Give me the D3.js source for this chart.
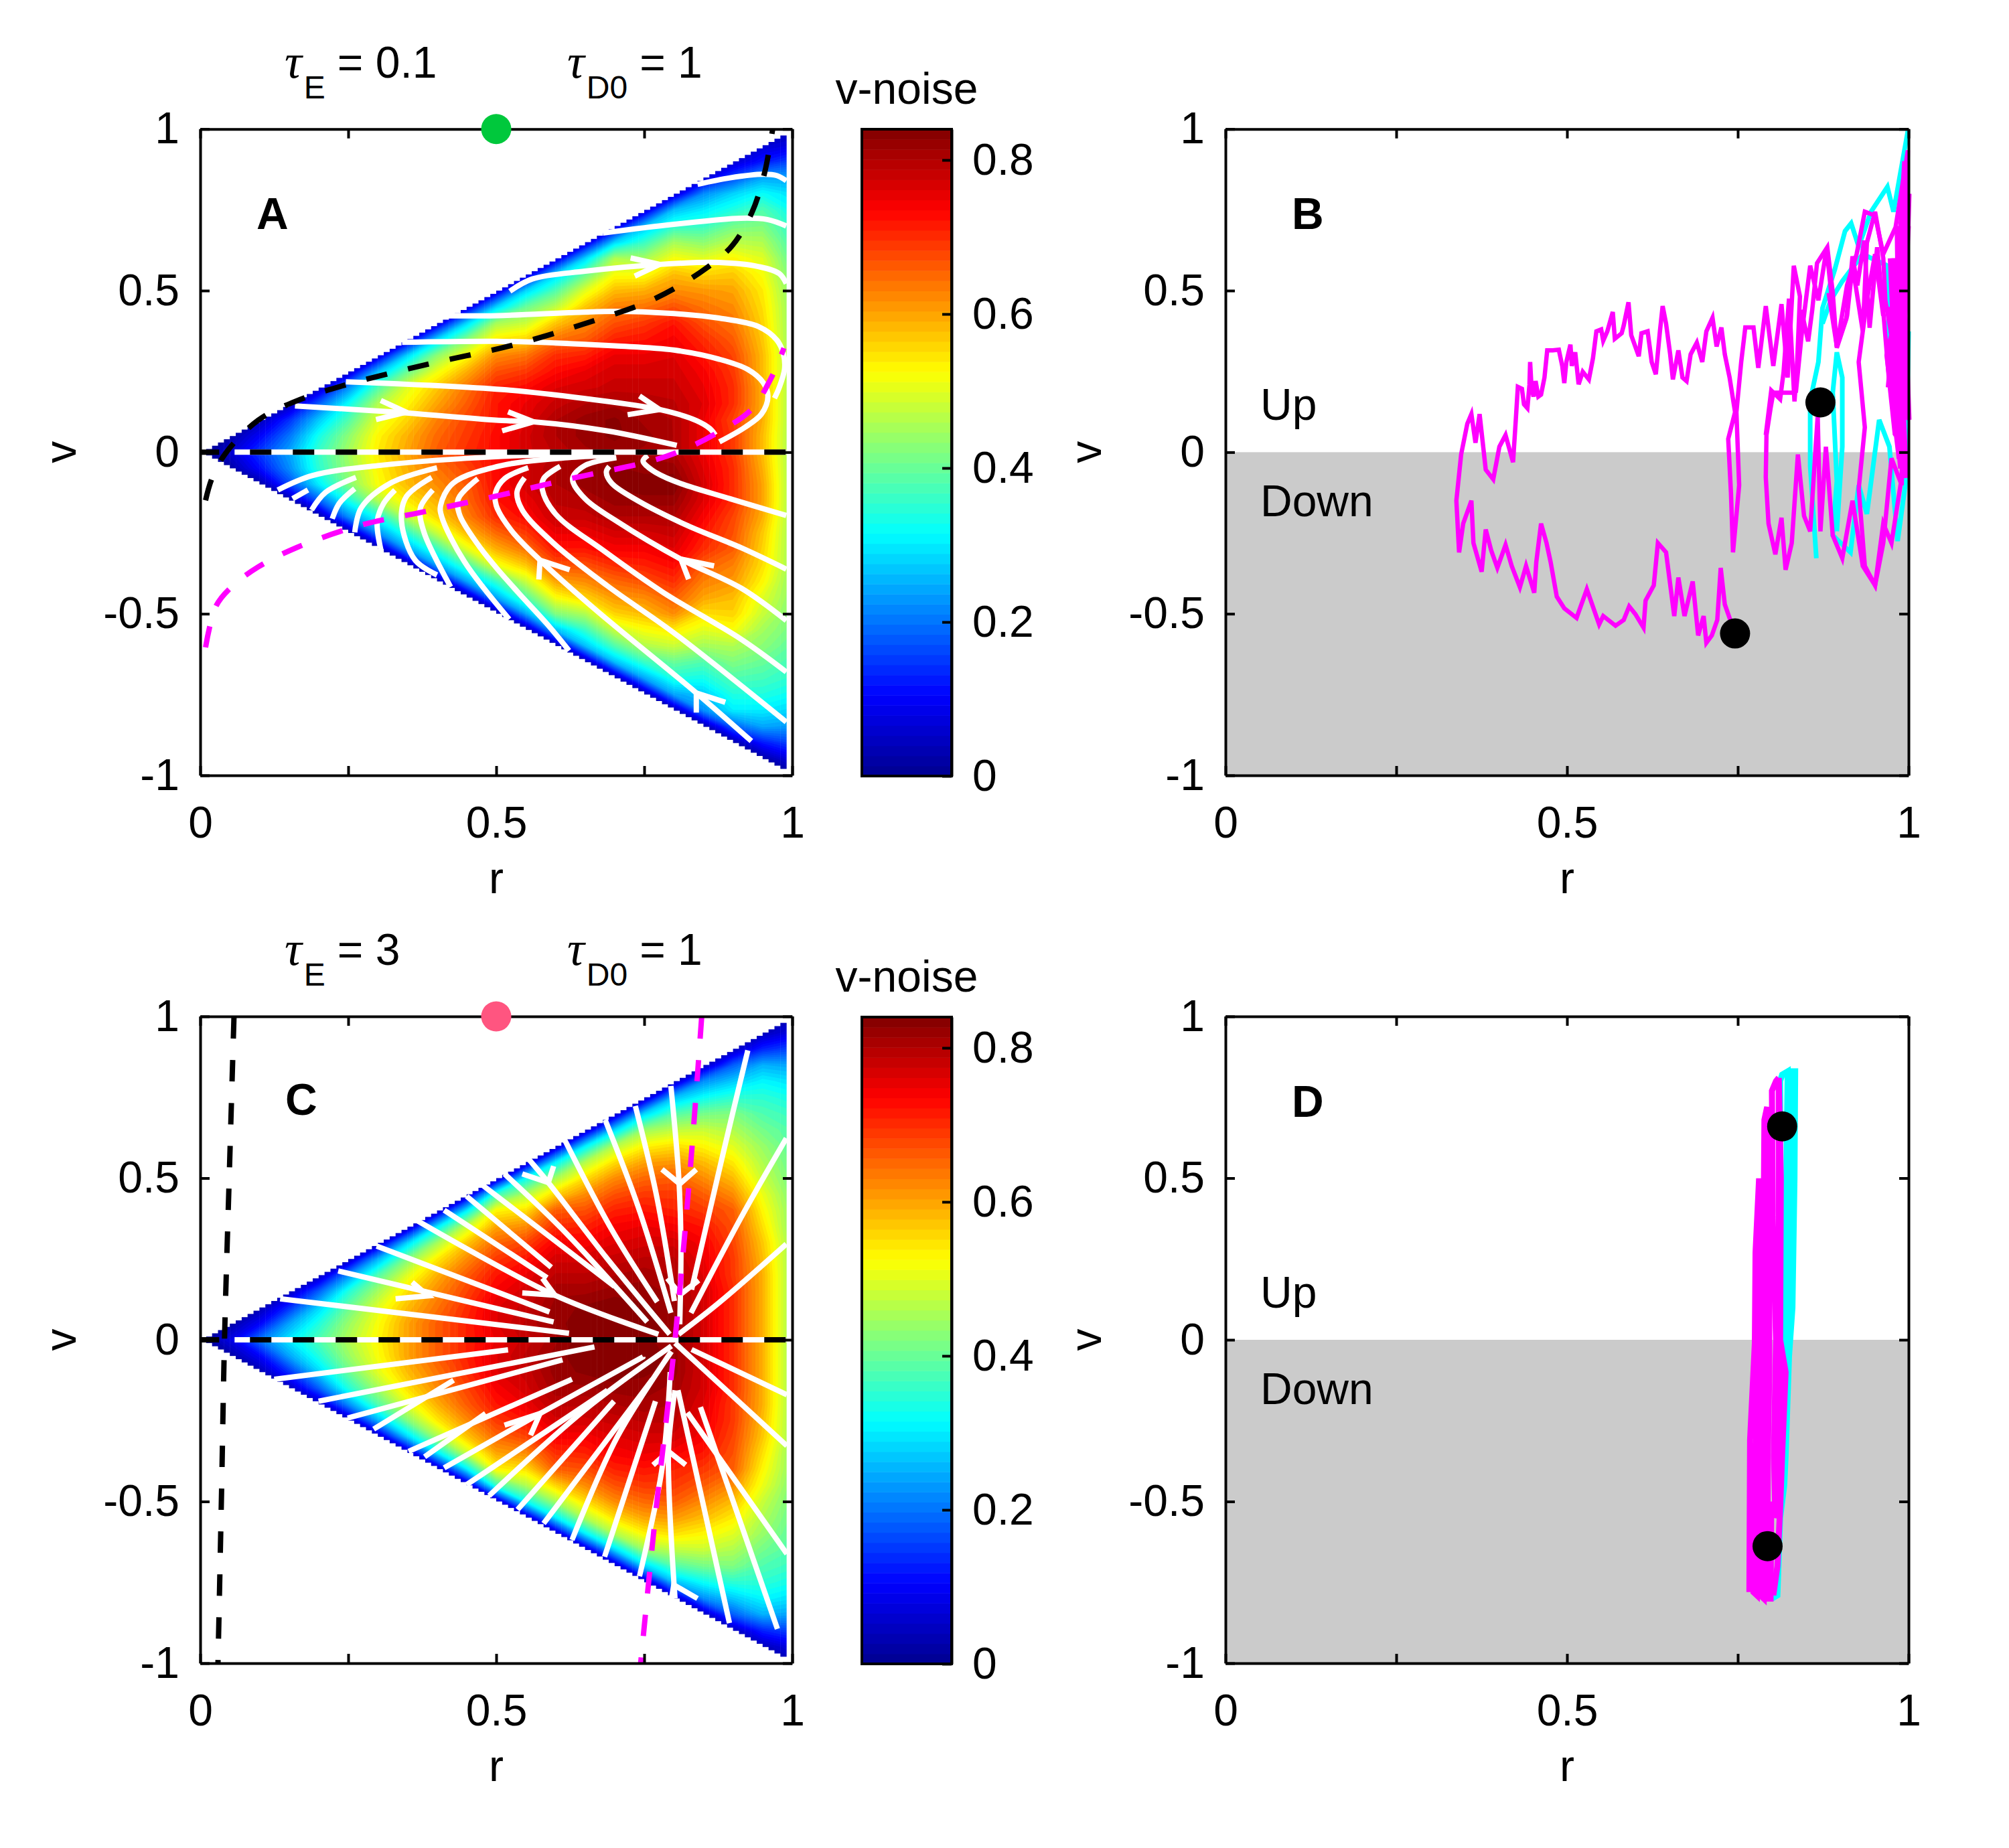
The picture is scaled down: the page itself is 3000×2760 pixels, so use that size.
<!DOCTYPE html>
<html>
<head>
<meta charset="utf-8">
<script src="https://d3js.org/d3.v7.min.js"></script>
<style>
  body { margin: 0; background: #fff; }
  text { font-family: "Liberation Sans", Arial, sans-serif; fill: #000; }
  .tau { font-family: "Liberation Serif", serif; font-style: italic; }
</style>
</head>
<body>
<div id="chart"></div>
<script>
// v-noise, in hundredths. One column per r = 0, 0.05 .. 1,
// each running from v = +r down to v = -r in steps of 0.05
var noiseA = [
  [0],
  [2,6,2],
  [4,10,15,11,2],
  [4,14,20,24,22,16,2],
  [5,18,27,33,36,35,30,18,2],
  [5,22,32,38,43,45,44,42,33,22,2],
  [6,26,38,46,50,53,54,53,52,46,33,22,2],
  [6,28,40,50,53,56,59,60,59,58,54,47,35,24,2],
  [6,28,43,51,57,60,63,65,66,64,62,59,56,48,36,24,2],
  [6,28,42,52,59,64,66,68,69,70,68,66,65,63,58,50,37,24,2],
  [6,28,45,54,62,67,71,72,72,73,73,73,73,72,70,65,59,51,36,24,2],
  [6,28,40,48,56,64,69,73,75,76,77,77,77,77,75,73,69,64,57,48,38,24,2],
  [6,28,38,47,57,64,70,73,76,78,80,80,79,80,80,79,78,75,72,67,60,52,42,26,2],
  [6,28,40,50,57,62,66,71,75,77,80,82,82,81,82,82,80,78,75,72,67,62,56,46,36,26,2],
  [6,28,46,52,58,63,67,71,75,77,78,81,83,83,82,83,83,82,80,77,74,70,65,61,56,48,38,26,2],
  [6,26,36,45,52,59,64,69,72,75,77,78,80,81,82,81,82,84,82,80,77,74,71,67,62,58,52,46,36,24,2],
  [6,26,35,45,52,58,62,67,72,74,76,77,78,79,80,80,80,82,84,82,80,78,76,73,70,66,62,54,48,40,34,24,2],
  [6,22,30,36,43,50,56,61,64,67,70,72,74,75,76,75,75,75,76,77,76,74,72,70,66,63,60,55,50,45,38,33,27,22,2],
  [6,16,28,34,41,47,53,57,60,62,64,66,68,69,70,70,68,69,69,70,70,70,68,67,66,63,61,58,56,52,46,42,38,34,30,18,2],
  [6,12,24,32,38,42,46,50,52,54,55,56,57,58,58,59,59,59,58,58,59,60,60,59,57,56,55,53,50,48,45,43,40,37,34,30,24,12,2],
  [4,8,16,24,29,32,35,37,39,41,42,43,43,43,44,44,44,44,44,44,44,44,44,44,44,44,44,44,43,43,42,41,39,37,35,32,28,23,16,8,2]
];

// panel C is symmetric about v = 0, so only v = +r down to v = 0 is kept
var noiseCUpper = [
  [0],
  [2,8],
  [3,10,20],
  [4,14,24,30],
  [4,18,28,34,38],
  [4,22,34,40,44,46],
  [4,25,38,45,50,52,53],
  [4,28,42,50,55,58,60,60],
  [4,30,45,54,59,62,64,66,66],
  [4,30,48,57,62,66,68,70,71,71],
  [4,36,53,60,65,69,72,74,76,76,75],
  [4,32,46,55,62,68,72,75,77,78,79,78],
  [4,30,45,56,66,70,74,77,79,81,82,82,81],
  [4,30,46,55,62,67,71,74,77,79,81,83,84,84],
  [4,28,46,55,62,67,71,74,76,78,80,82,84,84,84],
  [4,28,44,53,60,65,69,72,75,77,79,81,82,83,84,83],
  [4,26,38,47,55,61,66,69,71,74,77,79,80,81,82,82,82],
  [4,22,32,41,48,53,58,62,66,69,72,74,75,76,77,77,77,77],
  [4,18,27,35,42,46,50,54,58,62,66,67,68,69,69,70,70,70,70],
  [4,13,25,31,35,38,41,44,46,48,51,53,55,57,58,59,59,59,59,59],
  [4,8,16,24,29,33,36,38,39,40,41,42,43,43,44,44,44,44,44,44,44]
];

var streamsA = [
  [[.84,.829],[.895,.849],[.951,.86],[.974,.856],[.99,.84]],
  [[.68,.678],[.8,.705],[.913,.724],[.958,.72],[.99,.7]],
  [[.523,.498],[.561,.536],[.65,.56],[.776,.581],[.876,.587],[.944,.574],[.978,.553],[.99,.522]],
  [[.417,.422],[.501,.4225],[.7,.436],[.8,.429],[.876,.415],[.944,.388],[.974,.347],[.985,.305],[.987,.257],[.978,.2],[.97,.167]],
  [[.341,.34],[.501,.343],[.6,.338],[.7,.329],[.8,.316],[.876,.288],[.925,.256],[.951,.215],[.959,.173],[.948,.118],[.92,.077],[.877,.032]],
  [[.246,.218],[.51,.194],[.65,.166],[.776,.132],[.838,.098],[.861,.073],[.87,.053]],
  [[.16,.143],[.322,.125],[.51,.098],[.563,.094],[.687,.066],[.805,.021]],
  [[.131,-.117],[.19,-.072],[.303,-.041],[.51,-.013],[.69,-.005]],
  [[.156,-.144],[.182,-.117]],
  [[.188,-.179],[.212,-.124],[.263,-.078]],
  [[.223,-.206],[.235,-.158],[.261,-.113]],
  [[.261,-.248],[.272,-.172],[.321,-.096],[.4,-.048]],
  [[.306,-.31],[.299,-.213],[.31,-.158],[.329,-.117]],
  [[.4,-.38],[.363,-.334],[.34,-.213],[.348,-.138],[.391,-.078]],
  [[.423,-.417],[.378,-.248],[.372,-.172],[.393,-.117]],
  [[.522,-.517],[.446,-.338],[.408,-.2],[.406,-.165],[.427,-.096],[.51,-.041],[.627,-.016],[.7,-.01]],
  [[.623,-.614],[.589,-.538],[.537,-.434],[.499,-.355],[.468,-.283],[.438,-.193],[.436,-.144],[.469,-.082]],
  [[.931,-.894],[.838,-.745],[.665,-.483],[.574,-.334],[.525,-.241],[.5,-.165],[.499,-.124],[.514,-.082],[.554,-.048]],
  [[.99,-.835],[.8,-.559],[.688,-.414],[.597,-.282],[.544,-.179],[.535,-.124],[.548,-.079]],
  [[.99,-.68],[.914,-.579],[.782,-.434],[.68,-.303],[.601,-.193],[.578,-.117],[.58,-.082],[.608,-.044]],
  [[.99,-.521],[.914,-.421],[.812,-.331],[.703,-.213],[.65,-.144],[.629,-.082],[.65,-.041],[.703,-.017]],
  [[.99,-.362],[.914,-.296],[.823,-.227],[.74,-.151],[.695,-.096],[.686,-.061],[.691,-.044]],
  [[.99,-.196],[.895,-.144],[.8,-.089],[.763,-.055],[.748,-.027],[.756,-.01]]
];
var arrowsA = [
  [[.727,.601],[.776,.581],[.734,.545]],
  [[.742,.174],[.776,.132],[.722,.116]],
  [[.305,.16],[.348,.124],[.297,.101]],
  [[.52,.125],[.563,.094],[.51,.066]],
  [[.572,-.394],[.574,-.334],[.624,-.364]],
  [[.825,-.393],[.812,-.331],[.868,-.352]],
  [[.838,-.806],[.838,-.745],[.887,-.774]]
];
var nullBlackA = [[.009,-.149],[.02,-.08],[.043,-.003],[.098,.099],[.163,.159],[.249,.21],[.379,.27],[.525,.33],[.65,.398],[.769,.476],[.856,.571],[.899,.64],[.932,.742],[.953,.862],[.967,1]];
var nullMagentaA = [[.009,-.604],[.027,-.475],[.054,-.415],[.098,-.355],[.163,-.295],[.271,-.226],[.379,-.184],[.509,-.132],[.628,-.081],[.758,-.029],[.813,.005],[.878,.065],[.932,.134],[.964,.228],[.986,.322]];

var streamsC = [
  [[.925,.895],[.884,.582],[.83,.155]],
  [[.99,.623],[.913,.376],[.829,.083]],
  [[.99,.296],[.876,.114],[.808,.017]],
  [[.795,.785],[.808,.513],[.812,.307],[.81,.048]],
  [[.735,.723],[.771,.444],[.801,.12]],
  [[.684,.68],[.74,.41],[.795,.083]],
  [[.616,.617],[.695,.341],[.772,.117]],
  [[.555,.558],[.588,.486],[.687,.252],[.793,.017]],
  [[.514,.513],[.612,.341],[.755,.055]],
  [[.477,.478],[.7,.165]],
  [[.45,.444],[.593,.224]],
  [[.412,.401],[.586,.192]],
  [[.368,.367],[.599,.138],[.774,.017]],
  [[.298,.29],[.59,.086]],
  [[.233,.213],[.597,.055]],
  [[.135,.127],[.623,.02]],
  [[.125,-.122],[.52,-.031]],
  [[.2,-.19],[.666,-.022]],
  [[.249,-.242],[.612,-.062]],
  [[.293,-.276],[.428,-.125]],
  [[.352,-.345],[.628,-.122]],
  [[.379,-.362],[.482,-.228]],
  [[.412,-.396],[.574,-.228],[.748,-.053]],
  [[.45,-.448],[.688,-.156]],
  [[.488,-.482],[.65,-.216],[.796,-.019]],
  [[.536,-.525],[.699,-.19]],
  [[.58,-.568],[.683,-.319],[.764,-.122]],
  [[.628,-.619],[.704,-.302],[.796,-.036]],
  [[.683,-.671],[.769,-.19]],
  [[.742,-.731],[.78,-.4],[.794,-.1]],
  [[.802,-.8],[.791,-.345],[.802,-.156]],
  [[.894,-.876],[.807,-.156]],
  [[.975,-.894],[.845,-.208]],
  [[.991,-.662],[.823,-.225]],
  [[.991,-.328],[.802,-.01]],
  [[.991,-.17],[.83,-.03]]
];
var arrowsC = [
  [[.544,.513],[.588,.486],[.597,.537]],
  [[.544,.145],[.599,.138],[.578,.19]],
  [[.33,.127],[.385,.136],[.358,.178]],
  [[.78,.527],[.81,.482],[.838,.527]],
  [[.789,.19],[.811,.14],[.842,.184]],
  [[.514,-.264],[.574,-.228],[.558,-.295]],
  [[.765,-.387],[.791,-.345],[.82,-.387]],
  [[.796,-.8],[.80,-.758],[.84,-.8]]
];
var nullBlackC = [[.057,.997],[.049,.504],[.041,0],[.036,-.473],[.03,-1]];
var nullMagentaC = [[.847,.997],[.829,.556],[.802,0],[.769,-.542],[.744,-1]];

// noisy trajectories of panels B and D, points read one by one
var traceB = [[.746,-.561],[.737,-.507],[.731,-.471],[.725,-.358],[.72,-.519],[.712,-.567],[.704,-.59],[.7,-.507],[.692,-.567],[.684,-.4],[.672,-.507],[.663,-.388],[.657,-.507],[.645,-.31],[.633,-.281],[.627,-.412],[.615,-.459],[.612,-.543],[.6,-.501],[.591,-.477],[.583,-.519],[.571,-.537],[.553,-.507],[.547,-.533],[.529,-.424],[.514,-.513],[.496,-.483],[.485,-.447],[.476,-.34],[.47,-.281],[.462,-.221],[.455,-.34],[.452,-.435],[.44,-.352],[.431,-.418],[.419,-.352],[.41,-.287],[.398,-.358],[.389,-.304],[.381,-.239],[.375,-.37],[.363,-.281],[.36,-.15],[.348,-.221],[.342,-.31],[.338,-.15],[.345,-.007],[.354,.088],[.36,.118],[.366,.029],[.372,.118],[.381,-.054],[.392,-.084],[.401,.017],[.41,.053],[.421,-.031],[.425,.1],[.428,.202],[.434,.196],[.437,.148],[.442,.136],[.445,.208],[.446,.279],[.448,.202],[.451,.172],[.454,.22],[.458,.172],[.462,.178],[.467,.231],[.471,.315],[.479,.315],[.488,.317],[.493,.267],[.496,.214],[.499,.279],[.505,.333],[.507,.267],[.512,.309],[.517,.21],[.523,.249],[.532,.225],[.538,.291],[.543,.374],[.55,.38],[.553,.345],[.559,.374],[.567,.434],[.57,.351],[.58,.368],[.583,.392],[.59,.464],[.594,.362],[.605,.297],[.609,.368],[.618,.374],[.624,.279],[.63,.241],[.636,.374],[.64,.452],[.645,.398],[.651,.303],[.655,.225],[.663,.315],[.669,.231],[.675,.22],[.681,.303],[.69,.339],[.698,.279],[.704,.374],[.713,.416],[.719,.327],[.726,.386],[.731,.303],[.738,.231],[.746,.124],[.736,.041],[.74,-.126],[.743,-.31],[.752,-.102],[.748,.124],[.755,.279],[.761,.386],[.773,.386],[.78,.261],[.791,.452],[.802,.267],[.814,.458],[.823,.231],[.832,.577],[.841,.482],[.835,.184],[.844,.374],[.856,.577],[.868,.47],[.88,.63],[.895,.327],[.91,.517],[.924,.613],[.936,.744],[.951,.732],[.963,.613],[.981,.696],[.999,.934],[.99,-.102],[.975,-.019],[.963,-.281],[.951,-.412],[.936,-.352],[.927,-.114],[.936,.077],[.927,.279],[.939,.47],[.951,.613],[.963,.422]];
var traceB2 = [[.835,.184],[.802,.184],[.798,.136],[.792,.053],[.791,-.078],[.795,-.221],[.805,-.316],[.814,-.203],[.82,-.364],[.829,-.281],[.838,-.007],[.847,-.197],[.856,-.245],[.867,.112],[.871,-.245],[.879,.017],[.889,-.257],[.903,-.328],[.918,-.15],[.933,-.352],[.951,-.412],[.963,-.221],[.975,-.281],[.99,-.078],[.996,.493]];
var traceB3 = [[.883,.493],[.895,.327],[.91,.422],[.918,.577],[.933,.374],[.939,.648],[.951,.744],[.963,.601],[.966,.47],[.978,.327],[.987,.696]];
var traceB4 = [[.975,.35],[.99,-.05],[.985,.7],[.997,.1],[.98,.55],[.995,-.08],[.985,.4],[.999,.8],[.99,.2],[.975,.45],[.983,.05],[.993,.65],[.978,.25],[.996,.9],[.988,-.02],[.97,.3],[.992,.5],[.999,.1],[.975,.6],[.984,.15],[.998,.7],[.972,.2],[.99,.62],[.995,.3],[.98,.1]];
var traceB5 = [[.791,.053],[.799,.191],[.812,.164],[.817,.247],[.825,.475],[.833,.157],[.843,.44],[.853,.343],[.859,.44],[.866,.585],[.881,.634],[.889,.495],[.895,.323],[.909,.413],[.918,.606],[.925,.516],[.935,.655],[.943,.385],[.954,.634],[.964,.412],[.971,.233],[.98,.053]];
var cyanB1 = [[.865,-.328],[.856,-.042],[.856,.16],[.868,.279],[.874,.446],[.892,.565],[.907,.684],[.916,.708],[.927,.636],[.945,.744],[.969,.821],[.978,.744],[.99,.887],[.999,.994]];
var cyanB2 = [[.895,-.245],[.903,.017],[.903,.231],[.895,.309],[.889,.184],[.895,-.09],[.889,-.257],[.915,-.31],[.927,-.102],[.939,-.191],[.957,.1],[.972,.017],[.984,-.275],[.996,-.09],[1,.374]];
var cyanB3 = [[.874,.398],[.886,.47],[.903,.529],[.933,.613],[.969,.577],[.972,.315]];
var dotsB = [[.871,.154],[.746,-.561]];

var traceD = [[.767,-.78],[.768,-.31],[.775,-.01],[.776,.27],[.781,.49],[.784,.49],[.781,.1],[.777,-.3],[.773,-.78],[.778,-.79],[.782,-.3],[.785,.1],[.788,.4],[.789,.68],[.793,.72],[.79,.3],[.786,-.1],[.783,-.79],[.788,-.8],[.791,-.35],[.793,.05],[.795,.42],[.797,.72],[.796,.3],[.796,-.1],[.794,-.35],[.793,-.8],[.798,-.8],[.799,-.5]];
var traceD2 = [[.81,.81],[.806,.8],[.8,.77],[.801,.38],[.806,0],[.803,-.36],[.805,-.55],[.81,-.52],[.812,0],[.81,.4],[.81,.81],[.813,.5],[.812,0],[.82,-.1],[.815,-.35],[.812,-.52],[.808,-.7],[.802,-.79]];
var cyanD = [[.8,-.8],[.808,-.79],[.812,-.55],[.818,-.45],[.82,-.36],[.825,-.05],[.83,.1],[.833,.5],[.834,.83],[.828,.83],[.827,.4],[.824,0],[.818,-.3],[.815,-.5],[.816,0],[.82,.3],[.823,.83],[.815,.82],[.812,.8],[.812,.3],[.815,0]];
var dotsD = [[.815,.66],[.7936,-.638]];

var xTicks = [0, .25, .5, .75, 1];
var xLabels = {0: "0", .5: "0.5", 1: "1"};
var yTicks = [-1, -.5, 0, .5, 1];
var yLabels = {"-1": "-1", "-0.5": "-0.5", 0: "0", .5: "0.5", 1: "1"};
var barTicks = [0, .2, .4, .6, .8];
var barMax = 0.84;
var levels = d3.range(0, 64).map(i => i / 64 * barMax);

var jet = d3.scaleLinear()
    .domain([0, .105, .315, .525, .735, .84])
    .range(["#00008f", "#0000ff", "#00ffff", "#ffff00", "#ff0000", "#800000"])
    .clamp(true);

var svg = d3.select("#chart").append("svg")
    .attr("width", 3000)
    .attr("height", 2760);

var line = d3.line().curve(d3.curveCatmullRom.alpha(.5));
var FS = 66;

// set up one square panel with both scales and the box of axes
function makeAxes(left, right, top, bottom) {
  var x = d3.scaleLinear().domain([0, 1]).range([left, right]);
  var y = d3.scaleLinear().domain([-1, 1]).range([bottom, top]);
  return {x: x, y: y, left: left, right: right, top: top, bottom: bottom};
}

function drawBox(p) {
  var g = svg.append("g");
  var bottom = d3.axisBottom(p.x).tickValues(xTicks).tickSize(-14).tickSizeOuter(0).tickPadding(46)
      .tickFormat(d => xLabels[d] || "");
  var top = d3.axisTop(p.x).tickValues(xTicks).tickSize(-14).tickSizeOuter(0).tickFormat("");
  var left = d3.axisLeft(p.y).tickValues(yTicks).tickSize(-14).tickSizeOuter(0).tickPadding(31)
      .tickFormat(d => yLabels[d]);
  var right = d3.axisRight(p.y).tickValues(yTicks).tickSize(-14).tickSizeOuter(0).tickFormat("");
  [[bottom, 0, p.bottom], [top, 0, p.top], [left, p.left, 0], [right, p.right, 0]].forEach(a => {
    var ax = g.append("g").attr("transform", "translate(" + a[1] + "," + a[2] + ")").call(a[0]);
    ax.selectAll("path, line").attr("stroke", "#000").attr("stroke-width", 4);
    ax.selectAll("text").style("font-size", FS + "px").style("font-family", "Liberation Sans");
  });
  // axis labels
  svg.append("text").attr("x", (p.left + p.right) / 2).attr("y", p.bottom + 176)
    .attr("text-anchor", "middle").style("font-size", FS + "px").text("r");
  svg.append("text").attr("transform", "translate(" + (p.left - 186) + "," + ((p.top + p.bottom) / 2) + ") rotate(-90)")
    .attr("text-anchor", "middle").style("font-size", FS + "px").text("v");
}

function panelLabel(txt, x, y) {
  svg.append("text").attr("x", x).attr("y", y).style("font-size", FS + "px")
    .style("font-weight", "bold").text(txt);
}

// heat field: contour bands of the read table, cut to a stepped triangle
function drawHeat(p, cols, id) {
  var nx = cols.length, ny = 41;
  var values = new Array(nx * ny).fill(0);
  cols.forEach((c, k) => c.forEach((val, m) => {
    values[k + (20 - k + m) * nx] = val / 100;
  }));

  var clip = svg.append("clipPath").attr("id", id);
  d3.range(0, 99).forEach(i => {
    clip.append("rect")
      .attr("x", p.x(i / 100))
      .attr("width", p.x((i + 1) / 100) - p.x(i / 100) + .5)
      .attr("y", p.y(i / 100))
      .attr("height", p.y(-i / 100) - p.y(i / 100));
  });

  var toPlot = d3.geoTransform({
    point: function(a, b) {
      this.stream.point(p.x((a - .5) * .05), p.y(1 - (b - .5) * .05));
    }
  });
  var path = d3.geoPath(toPlot);
  var bands = d3.contours().size([nx, ny]).thresholds(levels)(values);
  svg.append("g").attr("clip-path", "url(#" + id + ")")
    .selectAll("path").data(bands).enter().append("path")
    .attr("d", path)
    .attr("fill", d => jet(d.value + barMax / 128));
}

function drawStreams(p, streams, arrows) {
  var g = svg.append("g").attr("fill", "none").attr("stroke", "#fff").attr("stroke-width", 8);
  streams.forEach(s => g.append("path").attr("d", line(s.map(d => [p.x(d[0]), p.y(d[1])]))));
  arrows.forEach(s => g.append("path").attr("d", d3.line()(s.map(d => [p.x(d[0]), p.y(d[1])]))));
}

function drawNullclines(p, black, magenta) {
  var g = svg.append("g").attr("fill", "none").attr("stroke-width", 8);
  // v = 0 line: white under black dashes, with a short solid stub at the origin
  g.append("path").attr("stroke", "#fff").attr("d", d3.line()([[p.x(.058), p.y(0)], [p.x(.99), p.y(0)]]));
  g.append("path").attr("stroke", "#000").attr("stroke-dasharray", "32,32")
    .attr("d", d3.line()([[p.x(.084), p.y(0)], [p.x(1), p.y(0)]]));
  g.append("path").attr("stroke", "#000").attr("d", d3.line()([[p.x(0), p.y(0)], [p.x(.032), p.y(0)]]));
  g.append("path").attr("stroke", "#000").attr("stroke-dasharray", "32,32")
    .attr("d", line(black.map(d => [p.x(d[0]), p.y(d[1])])));
  g.append("path").attr("stroke", "#ff00ff").attr("stroke-dasharray", "32,32")
    .attr("d", line(magenta.map(d => [p.x(d[0]), p.y(d[1])])));
}

function drawColorbar(left, right, top, bottom) {
  var y = d3.scaleLinear().domain([0, barMax]).range([bottom, top]);
  svg.append("g").selectAll("rect").data(levels).enter().append("rect")
    .attr("x", left).attr("width", right - left)
    .attr("y", d => y(d + barMax / 64))
    .attr("height", d => y(d) - y(d + barMax / 64) + .5)
    .attr("fill", d => jet(d + barMax / 128));
  var g = svg.append("g");
  var ax = g.append("g").attr("transform", "translate(" + right + ",0)")
    .call(d3.axisRight(y).tickValues(barTicks).tickSize(-14).tickSizeOuter(0).tickPadding(31)
      .tickFormat(d => d === 0 ? "0" : d3.format(".1f")(d)));
  ax.selectAll("path, line").attr("stroke", "#000").attr("stroke-width", 4);
  ax.selectAll("text").style("font-size", FS + "px").style("font-family", "Liberation Sans");
  g.append("rect").attr("x", left).attr("y", top).attr("width", right - left).attr("height", bottom - top)
    .attr("fill", "none").attr("stroke", "#000").attr("stroke-width", 4);
  svg.append("text").attr("x", (left + right) / 2).attr("y", top - 38)
    .attr("text-anchor", "middle").style("font-size", FS + "px").text("v-noise");
}

function tauTitle(x, y, sub, rest) {
  var t = svg.append("text").attr("x", x).attr("y", y).style("font-size", FS + "px");
  t.append("tspan").attr("class", "tau").style("font-size", (FS + 6) + "px").text("\u03c4");
  t.append("tspan").attr("dy", 31).attr("dx", 3).style("font-size", "48px").text(sub);
  t.append("tspan").attr("dy", -31).attr("dx", 18).text("= " + rest);
}

function drawTrace(p, pts, colour, w) {
  svg.append("path").attr("fill", "none").attr("stroke", colour).attr("stroke-width", w)
    .attr("d", d3.line()(pts.map(d => [p.x(d[0]), p.y(d[1])])));
}

function drawDownShade(p) {
  svg.append("rect").attr("x", p.x(0)).attr("y", p.y(0))
    .attr("width", p.x(1) - p.x(0)).attr("height", p.y(-1) - p.y(0)).attr("fill", "#cbcbcb");
}

function drawDots(p, pts) {
  svg.append("g").selectAll("circle").data(pts).enter().append("circle")
    .attr("cx", d => p.x(d[0])).attr("cy", d => p.y(d[1])).attr("r", 22.5).attr("fill", "#000");
}

function upDown(p) {
  svg.append("text").attr("x", 1882).attr("y", p.y(0) - 48).style("font-size", FS + "px").text("Up");
  svg.append("text").attr("x", 1882).attr("y", p.y(0) + 96).style("font-size", FS + "px").text("Down");
}

// panel A
var pA = makeAxes(299, 1183, 192.7, 1158);
drawHeat(pA, noiseA, "triA");
drawStreams(pA, streamsA, arrowsA);
drawNullclines(pA, nullBlackA, nullMagentaA);
drawBox(pA);
svg.append("circle").attr("cx", pA.x(.5)).attr("cy", pA.y(1)).attr("r", 22.5).attr("fill", "#00c83c");
panelLabel("A", 383, 342);
tauTitle(425, 116, "E", "0.1");
tauTitle(847, 116, "D0", "1");
drawColorbar(1287, 1421, 193, 1159);

// panel B
var pB = makeAxes(1830, 2850, 192.7, 1158);
drawDownShade(pB);
[cyanB1, cyanB2, cyanB3].forEach(c => drawTrace(pB, c, "#00ffff", 7));
[traceB, traceB2, traceB3, traceB5].forEach(c => drawTrace(pB, c, "#ff00ff", 6.5));
drawTrace(pB, traceB4, "#ff00ff", 11);
drawDots(pB, dotsB);
drawBox(pB);
panelLabel("B", 1929, 342);
upDown(pB);

// panel C, mirrored lower half
var noiseC = noiseCUpper.map(c => c.concat(c.slice(0, -1).reverse()));
var pC = makeAxes(299, 1183, 1518, 2484);
drawHeat(pC, noiseC, "triC");
drawStreams(pC, streamsC, arrowsC);
drawNullclines(pC, nullBlackC, nullMagentaC);
drawBox(pC);
svg.append("circle").attr("cx", pC.x(.5)).attr("cy", pC.y(1)).attr("r", 22.5).attr("fill", "#ff5580");
panelLabel("C", 426, 1665);
tauTitle(425, 1441, "E", "3");
tauTitle(847, 1441, "D0", "1");
drawColorbar(1287, 1421, 1519, 2485);

// panel D
var pD = makeAxes(1830, 2850, 1518, 2484);
drawDownShade(pD);
drawTrace(pD, cyanD, "#00ffff", 9);
drawTrace(pD, traceD, "#ff00ff", 9);
drawTrace(pD, traceD2, "#ff00ff", 9);
drawDots(pD, dotsD);
drawBox(pD);
panelLabel("D", 1929, 1668);
upDown(pD);
</script>
</body>
</html>
